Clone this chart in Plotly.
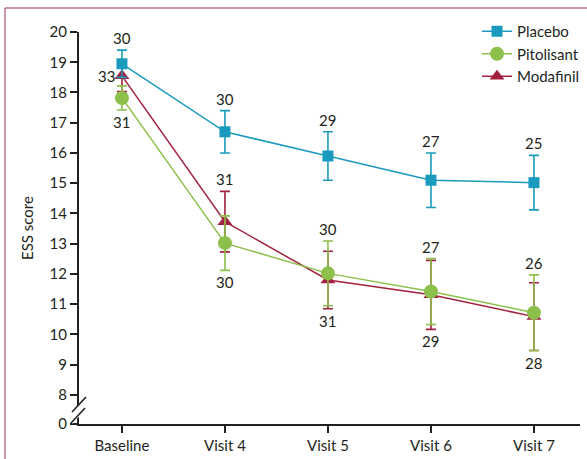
import plotly.graph_objects as go

visits = ["Baseline", "Visit 4", "Visit 5", "Visit 6", "Visit 7"]

placebo_mean = [18.95, 16.70, 15.90, 15.10, 15.02]
placebo_err = [0.45, 0.70, 0.80, 0.90, 0.90]
placebo_n = ["30", "30", "29", "27", "25"]

pitolisant_mean = [17.82, 13.02, 12.02, 11.42, 10.72]
pitolisant_err = [0.40, 0.90, 1.07, 1.09, 1.25]
pitolisant_n = ["31", "30", "30", "27", "26"]

modafinil_mean = [18.55, 13.73, 11.80, 11.31, 10.59]
modafinil_err = [0.52, 1.00, 0.95, 1.14, 1.12]
modafinil_n = ["33", "31", "31", "29", "28"]

y_ticks = [8, 9, 10, 11, 12, 13, 14, 15, 16, 17, 18, 19, 20]
y_zero_pos = 7.04  # displayed position of the "0" tick on the broken axis

# label placement (style)
placebo_pos = ["above"] * 5
pitolisant_pos = ["below", "below", "above", "above", "above"]
modafinil_pos = ["left", "above", "below", "below", "below"]

C_PLA = "#1a9bbd"
C_PIT = "#8cc04b"
C_MOD = "#a3213f"
INK = "#231f20"
FONT = "Lato"

fig = go.Figure()

def add_series(name, mean, err, color, symbol, size):
    fig.add_trace(go.Scatter(
        x=visits, y=mean, name=name, mode="lines+markers",
        line=dict(color=color, width=1.5),
        marker=dict(color=color, symbol=symbol, size=size, line=dict(width=0)),
        error_y=dict(type="data", array=err, color=color, thickness=1.6, width=5),
    ))

add_series("Modafinil", modafinil_mean, modafinil_err, C_MOD, "triangle-up", 13)
add_series("Pitolisant", pitolisant_mean, pitolisant_err, C_PIT, "circle", 14)
add_series("Placebo", placebo_mean, placebo_err, C_PLA, "square", 11)

annotations = []
def add_labels(mean, err, labels, pos):
    for x, m, e, t, p in zip(visits, mean, err, labels, pos):
        if p == "above":
            annotations.append(dict(x=x, y=m + e, text=t, showarrow=False,
                                    yanchor="bottom", xanchor="center", yshift=1))
        elif p == "below":
            annotations.append(dict(x=x, y=m - e, text=t, showarrow=False,
                                    yanchor="top", xanchor="center", yshift=-1))
        else:
            annotations.append(dict(x=x, y=m, text=t, showarrow=False,
                                    yanchor="middle", xanchor="right", xshift=-5))

add_labels(placebo_mean, placebo_err, placebo_n, placebo_pos)
add_labels(pitolisant_mean, pitolisant_err, pitolisant_n, pitolisant_pos)
add_labels(modafinil_mean, modafinil_err, modafinil_n, modafinil_pos)
for a in annotations:
    a["font"] = dict(family=FONT, size=15, color=INK)

# plot area geometry in pixels: left 79, right 580, top 32, bottom 424
FW, FH = 587, 459
L, R, T, B = 79, 580, 32, 424
W, H = R - L, B - T
def px(X):
    return (X - L) / W
def py(Y):
    return (B - Y) / H

shapes = [
    # outer frame
    dict(type="rect", xref="paper", yref="paper", x0=px(5), y0=py(470), x1=px(600), y1=py(8),
         line=dict(color="#8e3050", width=1), layer="below"),
    # white gap in axis for break
    dict(type="path", xref="paper", yref="paper",
         path=f"M {px(72)},{py(412)} L {px(86)},{py(397)} L {px(86)},{py(409)} L {px(72)},{py(424)} Z",
         fillcolor="white", line=dict(width=0), layer="above"),
    dict(type="line", xref="paper", yref="paper", x0=px(72), y0=py(412), x1=px(86), y1=py(397),
         line=dict(color=INK, width=1.6)),
    dict(type="line", xref="paper", yref="paper", x0=px(71), y0=py(423), x1=px(85), y1=py(408),
         line=dict(color=INK, width=1.6)),
]

fig.update_layout(
    width=FW, height=FH,
    margin=dict(l=L, r=FW - R, t=T, b=FH - B, autoexpand=False),
    paper_bgcolor="white", plot_bgcolor="white",
    font=dict(family=FONT, size=15, color=INK),
    showlegend=True,
    legend=dict(xref="container", yref="container",
                x=477 / FW, y=1 - 15 / FH, xanchor="left", yanchor="top",
                traceorder="reversed", bgcolor="rgba(0,0,0,0)",
                font=dict(family=FONT, size=15, color=INK),
                itemwidth=30, tracegroupgap=0),
    annotations=annotations,
    shapes=shapes,
    xaxis=dict(
        type="category", range=[-0.417, 4.447], automargin=False,
        showline=True, linecolor=INK, linewidth=2,
        ticks="outside", ticklen=7, tickwidth=2, tickcolor=INK,
        showgrid=False, zeroline=False,
        tickfont=dict(family=FONT, size=15, color=INK),
    ),
    yaxis=dict(
        range=[y_zero_pos, 20.0], automargin=False,
        tickvals=[y_zero_pos] + y_ticks,
        ticktext=["0"] + [str(v) for v in y_ticks],
        showline=True, linecolor=INK, linewidth=2,
        ticks="outside", ticklen=7, tickwidth=2, tickcolor=INK,
        showgrid=False, zeroline=False,
        tickfont=dict(family=FONT, size=15, color=INK),
        title=dict(text="ESS score", font=dict(family=FONT, size=15, color=INK), standoff=12),
    ),
)

fig.write_html("out.html",
               config={"displayModeBar": False},
               post_script="document.body.style.margin='0px';document.body.style.overflow='hidden';")
